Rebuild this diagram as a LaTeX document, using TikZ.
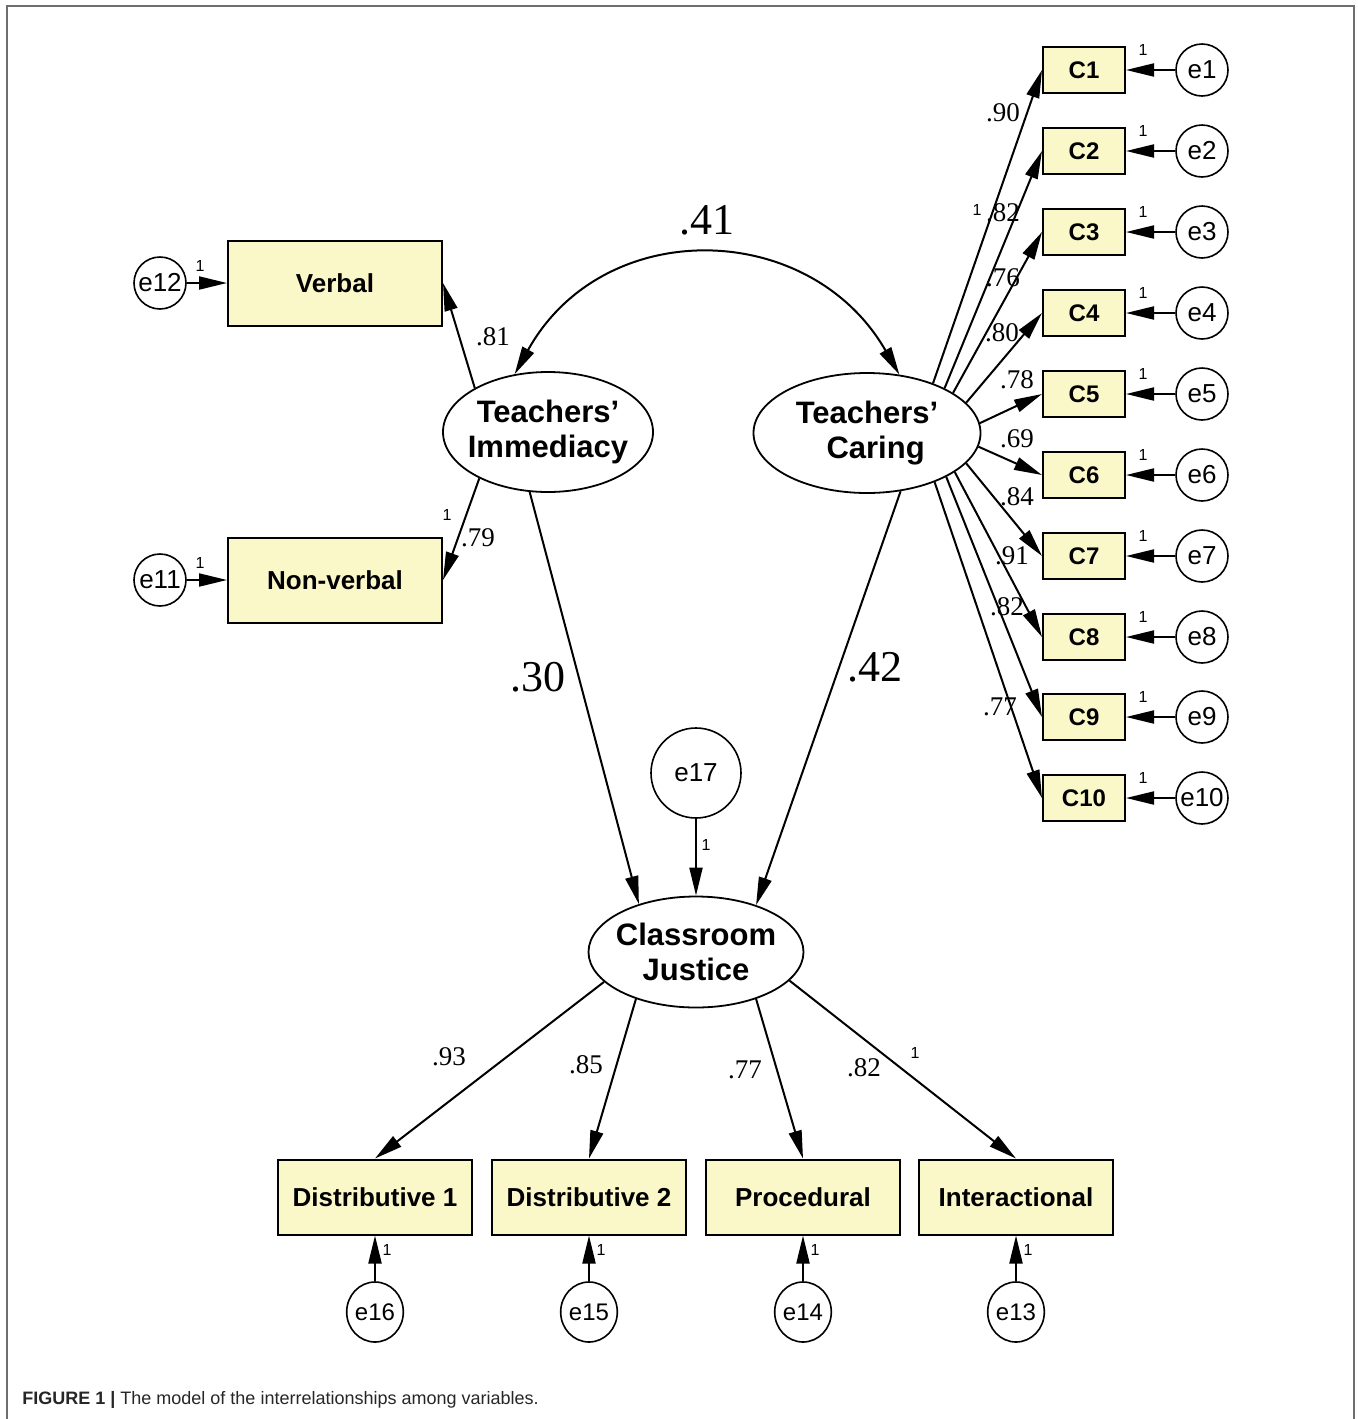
\documentclass[tikz,border=0pt]{standalone}
\usepackage{fontspec}
\setmainfont{Liberation Sans}
\newfontfamily\coeffont{Liberation Serif}
\usepackage{xcolor}
\usetikzlibrary{shapes.geometric,arrows.meta}
\definecolor{boxfill}{RGB}{250,247,200}
\definecolor{framegray}{RGB}{110,110,110}

\begin{document}
\begin{tikzpicture}[x=0.5pt, y=-0.5pt]
\tikzstyle{observed} = [rectangle, draw, line width=1pt, fill=boxfill, inner sep=0pt, font=\bfseries\fontsize{13}{15}\selectfont]
\tikzstyle{bigbox} = [observed, minimum width=107pt, minimum height=42.5pt]
\tikzstyle{cbox} = [observed, minimum width=41pt, minimum height=23pt, font=\bfseries\fontsize{12}{13}\selectfont]
\tikzstyle{jbox} = [observed, minimum width=97pt, minimum height=37.5pt]
\tikzstyle{latent} = [ellipse, draw, line width=0.9pt, inner sep=0pt]
\tikzstyle{latenttext} = [align=center, inner sep=0pt, font=\bfseries\fontsize{15.5}{17.5}\selectfont]
\tikzstyle{err} = [circle, draw, line width=0.8pt, inner sep=0pt, minimum size=26pt, font=\fontsize{13}{14}\selectfont]
\tikzstyle{errv} = [ellipse, draw, line width=0.8pt, inner sep=0pt, minimum width=27pt, minimum height=30pt, font=\fontsize{12}{13}\selectfont]
\tikzstyle{load} = [-{Triangle[length=14pt, width=6.5pt]}, line width=1pt]
\tikzstyle{coef} = [inner sep=0pt, font=\coeffont\fontsize{13.5}{14}\selectfont]
\tikzstyle{bigcoef} = [inner sep=0pt, font=\coeffont\fontsize{22}{24}\selectfont]
\tikzstyle{one} = [inner sep=0pt, font=\fontsize{8}{9}\selectfont]
\useasboundingbox (0,0) rectangle (1357,1419);
\draw[framegray, line width=1.2pt] (7,1419) -- (7,6) -- (1354,6) -- (1354,1419);

% latent variables
\node[latent, minimum width=105pt, minimum height=60pt, label={[latenttext]center:Teachers’\\Immediacy}] (imm) at (548,432) {};
\node[latent, minimum width=113.5pt, minimum height=60pt, label={[latenttext]center:Teachers’\\\ \ Caring}] (car) at (867,433) {};
\node[latent, minimum width=107.5pt, minimum height=55.5pt, label={[latenttext]center:Classroom\\Justice}] (cj) at (696,952) {};

% immediacy indicators
\node[bigbox] (verbal) at (335,283) {Verbal};
\node[bigbox] (nonverbal) at (335,580) {Non-verbal};
\node[err] (e12) at (160,283) {e12};
\node[err] (e11) at (160,580) {e11};
\draw[load] (e12) -- (verbal);
\draw[load] (e11) -- (nonverbal);
\draw[load] (imm.149) -- (verbal.east);
\draw[load] (imm.214) -- (nonverbal.east);
\node[one] (o12) at (200,266) {1};
\node[one] (o11) at (200,563) {1};
\node[coef] (l81) at (493,337) {.81};
\node[one] (o79) at (447,515) {1};
\node[coef] (l79) at (478,538) {.79};

% caring indicators
\node[cbox] (c1) at (1084,70) {C1};
\node[cbox] (c2) at (1084,151) {C2};
\node[cbox] (c3) at (1084,232) {C3};
\node[cbox] (c4) at (1084,313) {C4};
\node[cbox] (c5) at (1084,394) {C5};
\node[cbox] (c6) at (1084,475) {C6};
\node[cbox] (c7) at (1084,556) {C7};
\node[cbox] (c8) at (1084,637) {C8};
\node[cbox] (c9) at (1084,717) {C9};
\node[cbox] (c10) at (1084,798) {C10};
\node[err] (e1) at (1202,70) {e1};
\node[err] (e2) at (1202,151) {e2};
\node[err] (e3) at (1202,232) {e3};
\node[err] (e4) at (1202,313) {e4};
\node[err] (e5) at (1202,394) {e5};
\node[err] (e6) at (1202,475) {e6};
\node[err] (e7) at (1202,556) {e7};
\node[err] (e8) at (1202,637) {e8};
\node[err] (e9) at (1202,717) {e9};
\node[err] (e10) at (1202,798) {e10};
\draw[load] (e1) -- (c1);
\draw[load] (e2) -- (c2);
\draw[load] (e3) -- (c3);
\draw[load] (e4) -- (c4);
\draw[load] (e5) -- (c5);
\draw[load] (e6) -- (c6);
\draw[load] (e7) -- (c7);
\draw[load] (e8) -- (c8);
\draw[load] (e9) -- (c9);
\draw[load] (e10) -- (c10);
\node[one] (oc1) at (1143,50) {1};
\node[one] (oc2) at (1143,131) {1};
\node[one] (oc3) at (1143,212) {1};
\node[one] (oc4) at (1143,293) {1};
\node[one] (oc5) at (1143,374) {1};
\node[one] (oc6) at (1143,455) {1};
\node[one] (oc7) at (1143,536) {1};
\node[one] (oc8) at (1143,617) {1};
\node[one] (oc9) at (1143,697) {1};
\node[one] (oc10) at (1143,778) {1};
\draw[load] (car.37.3) -- (c1.west);
\draw[load] (car.30.3) -- (c2.west);
\draw[load] (car.25.2) -- (c3.west);
\draw[load] (car.17.2) -- (c4.west);
\draw[load] (car.5.6) -- (c5.west);
\draw[load] (car.-7.1) -- (c6.west);
\draw[load] (car.-17.7) -- (c7.west);
\draw[load] (car.-24.1) -- (c8.west);
\draw[load] (car.-29.7) -- (c9.west);
\draw[load] (car.-36.2) -- (c10.west);
\node[coef] (l90) at (1003,113) {.90};
\node[one] (oc) at (977,210) {1};
\node[coef] (l82a) at (1003,213) {.82};
\node[coef] (l76) at (1003,278) {.76};
\node[coef] (l80) at (1002,333) {.80};
\node[coef] (l78) at (1017,380) {.78};
\node[coef] (l69) at (1017,439) {.69};
\node[coef] (l84) at (1017,497) {.84};
\node[coef] (l91) at (1012,556) {.91};
\node[coef] (l82b) at (1007,607) {.82};
\node[coef] (l77a) at (1000,707) {.77};

% covariance and structural paths
\draw[{Triangle[length=14pt, width=6.5pt]}-{Triangle[length=14pt, width=6.5pt]}, line width=1pt] (imm.120) .. controls (603,215) and (810,219) .. (car.61);
\node[bigcoef] (l41) at (707,220) {.41};
\node[err, minimum size=45pt] (e17) at (696,773) {e17};
\draw[load] (imm.253) -- (cj.140);
\draw[load] (car.300) -- (cj.38);
\draw[load] (e17) -- (cj);
\node[one] (o17) at (706,845) {1};
\node[bigcoef] (l30) at (538,677) {.30};
\node[bigcoef] (l42) at (875,667) {.42};

% justice indicators
\node[jbox] (dist1) at (375,1197) {Distributive 1};
\node[jbox] (dist2) at (589,1197) {Distributive 2};
\node[jbox] (proc) at (803,1197) {Procedural};
\node[jbox] (inter) at (1016,1197) {Interactional};
\node[errv] (e16) at (375,1312) {e16};
\node[errv] (e15) at (589,1312) {e15};
\node[errv] (e14) at (803,1312) {e14};
\node[errv] (e13) at (1016,1312) {e13};
\draw[load] (e16) -- (dist1);
\draw[load] (e15) -- (dist2);
\draw[load] (e14) -- (proc);
\draw[load] (e13) -- (inter);
\node[one] (o16) at (387,1250) {1};
\node[one] (o15) at (601,1250) {1};
\node[one] (o14) at (815,1250) {1};
\node[one] (o13) at (1028,1250) {1};
\draw[load] (cj.198) -- (dist1.north);
\draw[load] (cj.218) -- (dist2.north);
\draw[load] (cj.322) -- (proc.north);
\draw[load] (cj.343) -- (inter.north);
\node[coef] (l93) at (449,1057) {.93};
\node[coef] (l85) at (586,1065) {.85};
\node[coef] (l77b) at (745,1070) {.77};
\node[coef] (l82c) at (864,1068) {.82};
\node[one] (oi) at (915,1053) {1};

\node[anchor=west, inner sep=0pt, text=black!85, font=\fontsize{9}{10}\selectfont] (caption) at (22,1400) {\textbf{FIGURE 1 |} The model of the interrelationships among variables.};
\end{tikzpicture}
\end{document}
